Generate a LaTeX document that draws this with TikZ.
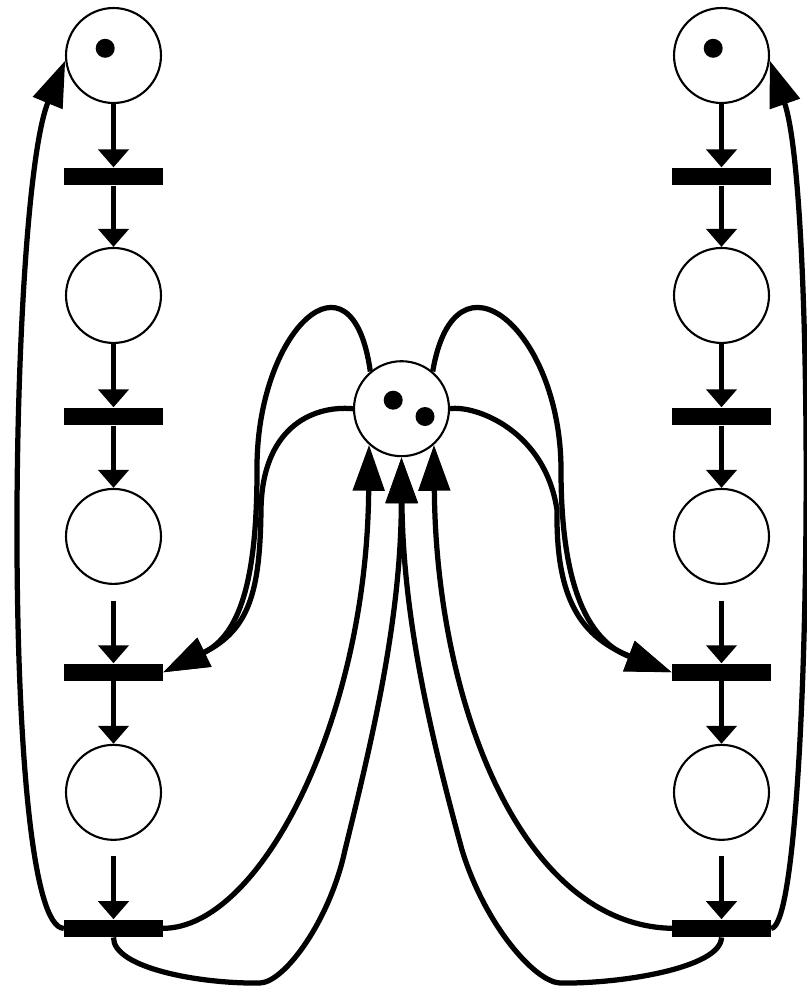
\documentclass[tikz,border=0pt]{standalone}
\usetikzlibrary{arrows.meta,positioning}

\begin{document}
\begin{tikzpicture}[
  x=0.02cm, y=-0.02cm, on grid,
  place/.style={draw, circle, line width=1.2pt, minimum size=1.9cm, inner sep=0pt},
  trans/.style={fill, rectangle, minimum width=1.97cm, minimum height=0.35cm, inner sep=0pt},
  token/.style={fill, circle, minimum size=0.38cm, inner sep=0pt},
  flowarc/.style={line width=0.115cm, -{Triangle[length=0.36cm, width=0.6cm]}},
  longarc/.style={line width=0.105cm, line join=round, -{Triangle[length=0.92cm, width=0.62cm]}}
]
\useasboundingbox (0,0) rectangle (806,987);

% left process
\node[place] (lp1) at (113.5,55.5) {};
\node[trans, below=2.42cm of lp1] (lt1) {};
\node[place, below=2.38cm of lt1] (lp2) {};
\node[trans, below=2.42cm of lp2] (lt2) {};
\node[place, below=2.40cm of lt2] (lp3) {};
\node[trans, below=2.72cm of lp3] (lt3) {};
\node[place, below=2.40cm of lt3] (lp4) {};
\node[trans, below=2.72cm of lp4] (lt4) {};

% right process
\node[place] (rp1) at (721.5,55.5) {};
\node[trans, below=2.42cm of rp1] (rt1) {};
\node[place, below=2.38cm of rt1] (rp2) {};
\node[trans, below=2.42cm of rp2] (rt2) {};
\node[place, below=2.40cm of rt2] (rp3) {};
\node[trans, below=2.72cm of rp3] (rt3) {};
\node[place, below=2.40cm of rt3] (rp4) {};
\node[trans, below=2.72cm of rp4] (rt4) {};

% shared resource
\node[place] (res) at (401.5,408.7) {};

% tokens
\node[token] (lp1tok) at ([shift={(-8.3,-7.2)}]lp1.center) {};
\node[token] (rp1tok) at ([shift={(-8.3,-7.2)}]rp1.center) {};
\node[token] (restoka) at ([shift={(-8.3,-8.5)}]res.center) {};
\node[token] (restokb) at ([shift={(23.5,7.8)}]res.center) {};

% sequential flow
\foreach \s in {l,r}{
  \draw[flowarc] (\s p1) -- (\s t1);
  \draw[flowarc] (\s t1) -- (\s p2);
  \draw[flowarc] (\s p2) -- (\s t2);
  \draw[flowarc] (\s t2) -- (\s p3);
  \draw[flowarc, shorten <=0.32cm] (\s p3) -- (\s t3);
  \draw[flowarc] (\s t3) -- (\s p4);
  \draw[flowarc, shorten <=0.30cm] (\s p4) -- (\s t4);
}

% back to start
\draw[longarc] (lt4.west) .. controls (0,928) and (8,199) .. (lp1.186);
\draw[longarc] (rt4.east) .. controls (812,928) and (818,199) .. (rp1.354);

% acquire the resource
\draw[longarc] (res.130) .. controls (352,240) and (256,330) .. (257,470)
  .. controls (257,580) and (240,635) .. (lt3.east);
\draw[longarc] (res.west) .. controls (310,405) and (262,430) .. (261,510)
  .. controls (260,590) and (250,630) .. (lt3.east);
\draw[longarc] (res.50) .. controls (455,240) and (561,330) .. (561,470)
  .. controls (561,580) and (585,640) .. (rt3.west);
\draw[longarc] (res.east) .. controls (475,405) and (545,430) .. (557,510)
  .. controls (556,590) and (575,635) .. (rt3.west);

% release the resource
\draw[longarc] (lt4.east) .. controls (260,928) and (367,720) .. (res.228);
\draw[longarc] (lt4.south) .. controls (113,968) and (200,984) .. (260,983)
  .. controls (285,982) and (330,920) .. (345,850)
  .. controls (372,740) and (401,620) .. (res.south);
\draw[longarc] (rt4.west) .. controls (520,925) and (436,700) .. (res.312);
\draw[longarc] (rt4.south) .. controls (721,968) and (620,984) .. (560,983)
  .. controls (535,982) and (485,925) .. (462,850)
  .. controls (432,740) and (403,620) .. (res.south);

\end{tikzpicture}
\end{document}
